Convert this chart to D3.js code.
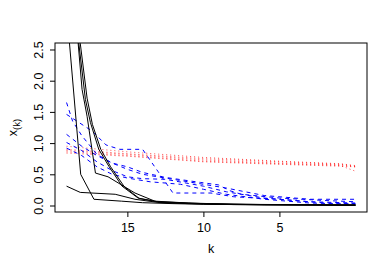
<!DOCTYPE html>
<html>
<head>
<meta charset="utf-8">
<script src="https://cdn.jsdelivr.net/npm/d3@7"></script>
<style>
  body { margin: 0; background: #fff; }
  svg { display: block; font-family: "Liberation Sans", Arial, sans-serif; }
</style>
</head>
<body>
<svg id="chart" width="374" height="267"></svg>
<script>
// tick labels
const kTicks = [15, 10, 5];
const yTicks = [0, 0.5, 1, 1.5, 2, 2.5];

// black solid series, [k, x_(k)]
const black1 = [[19, 3.15], [18.07, 0.5], [17.2, 0.1], [15.4, 0.07], [14, 0.045], [12, 0.03], [10, 0.02], [6, 0.01], [0, 0.005]];
const black2 = [[19, 0.31], [18.1, 0.21], [15.8, 0.18], [14.5, 0.1], [13, 0.05], [11, 0.03], [8, 0.015], [0, 0.006]];
const black3 = [[19, 4.8], [17.98, 1.86], [17.65, 1.43], [17.1, 0.52], [16.27, 0.46], [14.5, 0.2], [13.2, 0.07], [11, 0.04], [8, 0.02], [0, 0.008]];
const black4 = [[19, 4.5], [18.2, 2.61], [17.76, 1.7], [17.43, 1.33], [16.88, 0.9], [16.22, 0.63], [15.35, 0.31], [14.3, 0.12], [13, 0.06], [10, 0.03], [6, 0.015], [0, 0.006]];
const black5 = [[19, 5.2], [18.1, 2.6], [17.65, 1.72], [17.3, 1.3], [16.75, 0.9], [16.1, 0.62], [15.2, 0.3], [14.2, 0.11], [12.8, 0.05], [10, 0.025], [6, 0.012], [0, 0.005]];

// blue dashed series
const blue1 = [[19, 1.65], [18.6, 1.35], [18, 1.12], [17, 0.82], [16, 0.68], [15, 0.62], [14, 0.53], [12.5, 0.45], [10.2, 0.37], [9, 0.33], [8.3, 0.24], [7.5, 0.18], [5, 0.12], [2, 0.08], [0, 0.06]];
const blue2 = [[19, 1.46], [17.3, 1.19], [16.4, 0.97], [15.5, 0.9], [14, 0.9], [13, 0.55], [12, 0.2], [9.5, 0.2], [8, 0.14], [5, 0.1], [2, 0.04], [0, 0.03]];
const blue3 = [[19, 1.14], [18, 0.95], [17, 0.8], [16, 0.68], [15, 0.58], [14, 0.5], [12, 0.42], [10, 0.34], [8.5, 0.28], [6, 0.16], [3, 0.1], [0, 0.1]];
const blue4 = [[19, 1.01], [18, 0.88], [17, 0.7], [16, 0.56], [15, 0.46], [14, 0.43], [12.5, 0.42], [10, 0.31], [8.5, 0.22], [6, 0.12], [3, 0.06], [0, 0.04]];
const blue5 = [[19, 0.92], [18, 0.8], [17, 0.62], [16, 0.5], [15, 0.44], [13.5, 0.38], [11.5, 0.34], [10, 0.26], [8.5, 0.18], [6, 0.1], [3, 0.04], [0, 0.02]];

// red dotted series
const red1 = [[19, 0.95], [15, 0.86], [10, 0.77], [5, 0.71], [1, 0.67], [0, 0.64]];
const red2 = [[19, 0.9], [15, 0.83], [10, 0.75], [5, 0.7], [1, 0.66], [0, 0.63]];
const red3 = [[19, 0.88], [15, 0.82], [10, 0.73], [5, 0.68], [1, 0.65], [0, 0.62]];
const red4 = [[19, 0.86], [15, 0.8], [10, 0.71], [5, 0.67], [1, 0.64], [0, 0.55]];
const red5 = [[19, 0.84], [15, 0.79], [10, 0.7], [5, 0.66], [1, 0.63], [0, 0.62]];

const svg = d3.select("#chart");
const plotL = 55, plotR = 367, plotT = 43, plotB = 212;

const x = d3.scaleLinear().domain([19.76, -0.76]).range([plotL, plotR]);
const y = d3.scaleLinear().domain([-0.104, 2.604]).range([plotB, plotT]);

svg.append("clipPath").attr("id", "plotclip")
  .append("rect")
  .attr("x", plotL).attr("y", plotT)
  .attr("width", plotR - plotL).attr("height", plotB - plotT);

const line = d3.line().x(d => x(d[0])).y(d => y(d[1]));
const plot = svg.append("g").attr("clip-path", "url(#plotclip)");

const groups = [
  { series: [red1, red2, red3, red4, red5], color: "#ff0000", dash: "1,3", opacity: 0.7 },
  { series: [blue1, blue2, blue3, blue4, blue5], color: "#0000ff", dash: "4,4", opacity: 1 },
  { series: [black1, black2, black3, black4, black5], color: "#000", dash: null, opacity: 1 }
];

groups.forEach(grp => {
  plot.selectAll(null)
    .data(grp.series)
    .enter()
    .append("path")
    .attr("d", line)
    .attr("fill", "none")
    .attr("stroke", grp.color)
    .attr("stroke-width", 1)
    .attr("stroke-opacity", grp.opacity)
    .attr("stroke-dasharray", grp.dash);
});

// box
svg.append("rect")
  .attr("x", plotL).attr("y", plotT)
  .attr("width", plotR - plotL).attr("height", plotB - plotT)
  .attr("fill", "none")
  .attr("stroke", "#000")
  .attr("stroke-width", 1);

// x axis
const xAxis = svg.append("g")
  .attr("transform", `translate(0,${plotB})`)
  .call(d3.axisBottom(x).tickValues(kTicks).tickSize(5).tickPadding(6).tickFormat(d3.format("d")));
xAxis.select(".domain").remove();
xAxis.selectAll("text").style("font-size", "12.5px").attr("fill", "#000");

// y axis, labels parallel to axis
const yAxis = svg.append("g")
  .attr("transform", `translate(${plotL},0)`)
  .call(d3.axisLeft(y).tickValues(yTicks).tickSize(5).tickFormat(d3.format(".1f")));
yAxis.select(".domain").remove();
yAxis.selectAll("text")
  .attr("x", 0)
  .attr("y", -12)
  .attr("dy", null)
  .attr("text-anchor", "middle")
  .attr("transform", "rotate(-90)")
  .style("font-size", "12.5px")
  .attr("fill", "#000");

// axis titles
svg.append("text")
  .attr("x", (plotL + plotR) / 2)
  .attr("y", 253)
  .attr("text-anchor", "middle")
  .style("font-size", "12.5px")
  .text("k");

const yt = svg.append("text")
  .attr("transform", "translate(17,127.5) rotate(-90)")
  .attr("text-anchor", "middle")
  .style("font-size", "12.5px");
yt.append("tspan").text("x");
yt.append("tspan").attr("dy", 3).style("font-size", "9.5px").text("(k)");
</script>
</body>
</html>
